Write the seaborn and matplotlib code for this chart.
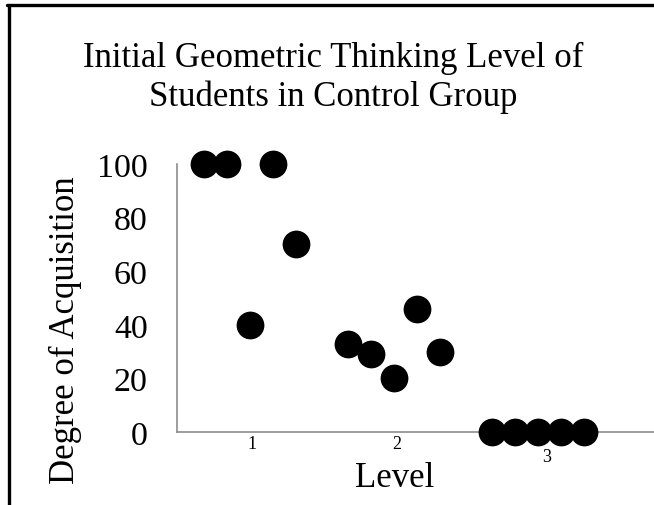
import matplotlib.pyplot as plt
import matplotlib.transforms as mtransforms
import seaborn as sns
import pandas as pd
from matplotlib.lines import Line2D

# values, five students per level (left to right)
levels = ['1', '2', '3']
level1_scores = [100, 100, 40, 100, 70]
level2_scores = [33, 29, 20, 46, 30]
level3_scores = [0, 0, 0, 0, 0]
students = ['S1', 'S2', 'S3', 'S4', 'S5']

rows = []
for lvl, scores in zip(levels, [level1_scores, level2_scores, level3_scores]):
    for st, sc in zip(students, scores):
        rows.append({'Level': lvl, 'Degree': sc, 'Student': st})
df = pd.DataFrame(rows)

sns.set_style("white")
plt.rcParams['font.family'] = ['Liberation Serif', 'DejaVu Serif']
plt.rcParams['text.color'] = 'black'
plt.rcParams['axes.labelcolor'] = 'black'
plt.rcParams['xtick.color'] = 'black'
plt.rcParams['ytick.color'] = 'black'

fig = plt.figure(figsize=(6.54, 5.06), dpi=100)
ax = fig.add_axes([177 / 654, 73 / 506, 477 / 654, 268 / 506])

sns.stripplot(data=df, x='Level', y='Degree', hue='Student', order=levels,
              hue_order=students, dodge=True, jitter=False,
              palette=['black'] * 5, size=20, linewidth=0,
              legend=False, ax=ax)
for coll in ax.collections:
    coll.set_clip_on(False)

ax.set_ylim(0, 100)
ax.set_xlim(-0.507, 2.806)
ax.set_yticks([0, 20, 40, 60, 80, 100])
ax.tick_params(axis='y', length=0, pad=21, labelsize=24.5)
ax.tick_params(axis='x', length=0, pad=2, labelsize=13)

# category labels sit a little off-centre in the original, "3" drops below the dots
shifts = [(2, 0), (3, 0), (9, -13)]
for lab, (dx, dy) in zip(ax.get_xticklabels(), shifts):
    off = mtransforms.ScaledTranslation(dx / 100, dy / 100, fig.dpi_scale_trans)
    lab.set_transform(lab.get_transform() + off)

for side in ['top', 'right']:
    ax.spines[side].set_visible(False)
for side in ['left', 'bottom']:
    ax.spines[side].set_color('#8c8c8c')
    ax.spines[side].set_linewidth(1.2)

ax.set_ylabel('Degree of Acquisition', fontsize=25)
ax.yaxis.set_label_coords(-0.199, 0.382)
ax.set_xlabel('Level', fontsize=25)
ax.xaxis.set_label_coords(0.457, -0.108)

fig.suptitle('Initial Geometric Thinking Level of\nStudents in Control Group',
             x=333 / 654, y=1 - 42 / 506, va='top', fontsize=25, linespacing=1.2)

# black frame on the top and left edges
fig.add_artist(Line2D([8.5 / 654, 8.5 / 654], [0, 1 - 6 / 506],
                      transform=fig.transFigure, color='black', lw=2.4))
fig.add_artist(Line2D([7 / 654, 1], [1 - 6 / 506, 1 - 6 / 506],
                      transform=fig.transFigure, color='black', lw=2.4))

fig.savefig('out.png', dpi=100)
